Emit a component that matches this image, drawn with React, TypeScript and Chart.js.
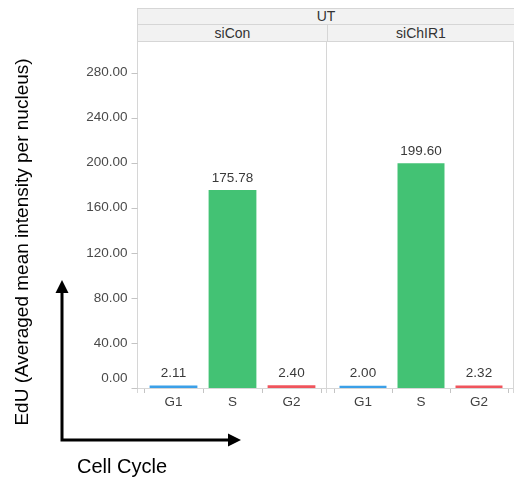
import React, { useEffect, useRef } from 'react';
import { Chart, registerables } from 'chart.js';

Chart.register(...registerables);

// ---- data ----
const phases = ['G1', 'S', 'G2'];
const siConValues = [2.11, 175.78, 2.4];
const siChIR1Values = [2.0, 199.6, 2.32];
const phaseColors = ['#3BA0E8', '#43C274', '#F0545C'];
const yTickValues = [0, 40, 80, 120, 160, 200, 240, 280];
const yMax = 308;
const panelNames = ['siCon', 'siChIR1'];
const groupName = 'UT';
const yTitle = 'EdU (Averaged mean intensity per nucleus)';
const xTitle = 'Cell Cycle';

// ---- layout / style ----
const FONT = '"Liberation Sans", Arial, sans-serif';
const H = 485;
const PLOT_TOP = 41;
const PLOT_BOTTOM = 388;
const LINE = '#D6D6D6';
const TICK = '#C4C4C4';

type PanelProps = {
  values: number[];
  left: number;
  width: number;
  padLeft: number;
  padRight: number;
  frameLeft: number | null;
  frameRight: number;
  first: boolean;
};

function Panel({ values, left, width, padLeft, padRight, frameLeft, frameRight, first }: PanelProps) {
  const ref = useRef<HTMLCanvasElement>(null);

  useEffect(() => {
    const canvas = ref.current;
    if (!canvas) return;

    const decor = {
      id: 'decor',
      afterDatasetsDraw(chart: any) {
        const ctx = chart.ctx as CanvasRenderingContext2D;
        const ys = chart.scales.y;
        ctx.save();
        // frame lines
        ctx.strokeStyle = LINE;
        ctx.lineWidth = 1;
        ctx.beginPath();
        if (frameLeft !== null) {
          ctx.moveTo(frameLeft, PLOT_TOP);
          ctx.lineTo(frameLeft, PLOT_BOTTOM + 5);
        }
        ctx.moveTo(frameRight, PLOT_TOP);
        ctx.lineTo(frameRight, PLOT_BOTTOM + 5);
        const baseY = Math.round(ys.getPixelForValue(0)) + 0.5;
        ctx.moveTo(frameLeft !== null ? frameLeft - 0.5 : 0, baseY);
        ctx.lineTo(frameRight + 0.5, baseY);
        ctx.stroke();

        // value labels
        const meta = chart.getDatasetMeta(0);
        ctx.font = `13.5px ${FONT}`;
        ctx.fillStyle = '#3A3A3A';
        ctx.textAlign = 'center';
        ctx.textBaseline = 'middle';
        meta.data.forEach((el: any, i: number) => {
          ctx.fillText(values[i].toFixed(2), el.x, el.y - 12);
        });

        if (first && frameLeft !== null) {
          // y ticks
          ctx.strokeStyle = TICK;
          ctx.beginPath();
          yTickValues.forEach((v) => {
            const y = Math.round(ys.getPixelForValue(v)) + 0.5;
            ctx.moveTo(frameLeft - 6, y);
            ctx.lineTo(frameLeft, y);
          });
          ctx.stroke();
          ctx.fillStyle = '#4A4A4A';
          ctx.textAlign = 'right';
          yTickValues.forEach((v) => {
            const y = ys.getPixelForValue(v) - (v === 0 ? 10 : 0);
            ctx.fillText(v.toFixed(2), frameLeft - 10, y);
          });

          // y title
          ctx.fillStyle = '#000';
          ctx.font = `19px ${FONT}`;
          ctx.textAlign = 'center';
          ctx.save();
          ctx.translate(23, 242);
          ctx.rotate(-Math.PI / 2);
          ctx.fillText(yTitle, 0, 0);
          ctx.restore();

          // arrows
          ctx.strokeStyle = '#000';
          ctx.fillStyle = '#000';
          ctx.lineWidth = 3;
          ctx.beginPath();
          ctx.moveTo(62, 441.5);
          ctx.lineTo(62, 290);
          ctx.moveTo(60.5, 440);
          ctx.lineTo(230, 440);
          ctx.stroke();
          ctx.beginPath();
          ctx.moveTo(62, 280);
          ctx.lineTo(55.5, 293);
          ctx.lineTo(68.5, 293);
          ctx.closePath();
          ctx.fill();
          ctx.beginPath();
          ctx.moveTo(241, 440);
          ctx.lineTo(228, 433.5);
          ctx.lineTo(228, 446.5);
          ctx.closePath();
          ctx.fill();

          // x title
          ctx.font = `20px ${FONT}`;
          ctx.textAlign = 'left';
          ctx.fillText(xTitle, 77, 467);
        }
        ctx.restore();
      },
    };

    const chart = new Chart(canvas, {
      type: 'bar',
      data: {
        labels: phases,
        datasets: [
          {
            data: values,
            backgroundColor: phaseColors,
            borderWidth: 0,
            categoryPercentage: 1,
            barPercentage: 0.81,
          },
        ],
      },
      options: {
        responsive: false,
        animation: false,
        layout: { padding: { top: PLOT_TOP, left: padLeft, right: padRight, bottom: 0 } },
        plugins: { legend: { display: false }, tooltip: { enabled: false } },
        scales: {
          x: {
            offset: true,
            border: { display: false },
            grid: {
              display: true,
              offset: true,
              drawOnChartArea: false,
              drawTicks: true,
              tickLength: 5,
              color: TICK,
            },
            ticks: {
              font: { family: FONT, size: 13.5 },
              color: '#404040',
              padding: 1,
            },
            afterFit: (scale: any) => {
              scale.height = H - PLOT_BOTTOM;
            },
          },
          y: {
            display: false,
            min: 0,
            max: yMax,
          },
        },
      },
      plugins: [decor],
    });
    return () => chart.destroy();
  }, [values, padLeft, padRight, frameLeft, frameRight, first]);

  return (
    <canvas
      ref={ref}
      width={width}
      height={H}
      style={{ position: 'absolute', left, top: 0, width, height: H, display: 'block' }}
    />
  );
}

const headerCell: React.CSSProperties = {
  position: 'absolute',
  boxSizing: 'border-box',
  background: '#F2F2F2',
  borderLeft: `1px solid ${LINE}`,
  borderBottom: `1px solid ${LINE}`,
  color: '#333',
  fontFamily: FONT,
  fontSize: 14,
  textAlign: 'center',
  whiteSpace: 'nowrap',
};

export default function App() {
  return (
    <div
      style={{
        position: 'fixed',
        left: 0,
        top: 0,
        width: 514,
        height: H,
        background: '#fff',
        overflow: 'hidden',
      }}
    >
      <Panel
        values={siConValues}
        left={0}
        width={327}
        padLeft={144}
        padRight={6}
        frameLeft={137.5}
        frameRight={326.5}
        first={true}
      />
      <Panel
        values={siChIR1Values}
        left={327}
        width={187}
        padLeft={7}
        padRight={6}
        frameLeft={null}
        frameRight={186.5}
        first={false}
      />
      <div
        style={{
          ...headerCell,
          left: 137,
          top: 8,
          width: 377,
          height: 17,
          borderTop: `1px solid ${LINE}`,
          lineHeight: '15px',
        }}
      >
        {groupName}
      </div>
      <div style={{ ...headerCell, left: 137, top: 25, width: 190, height: 17, lineHeight: '16px' }}>
        {panelNames[0]}
      </div>
      <div style={{ ...headerCell, left: 327, top: 25, width: 187, height: 17, lineHeight: '16px' }}>
        {panelNames[1]}
      </div>
    </div>
  );
}
